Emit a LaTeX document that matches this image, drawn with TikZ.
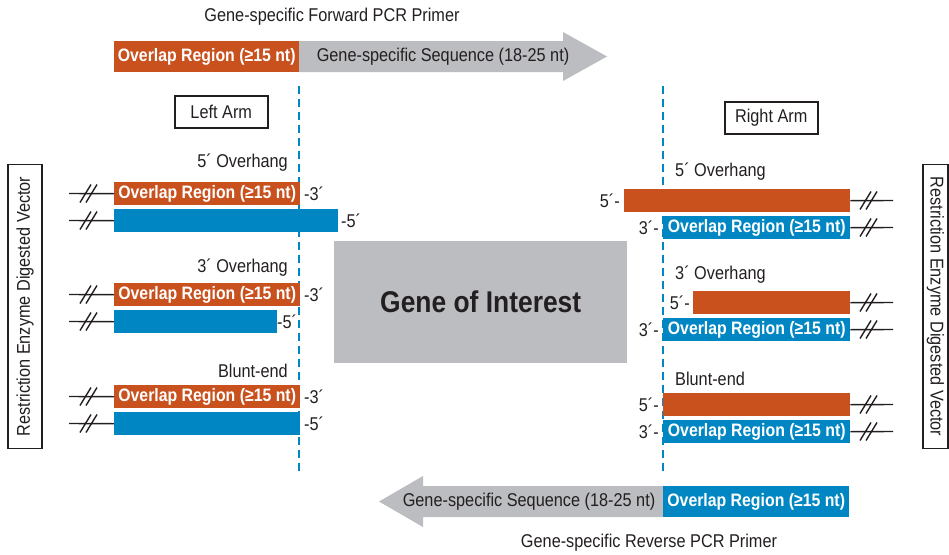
\documentclass[tikz,border=0pt]{standalone}
\usepackage{fontspec}
\setmainfont[FakeStretch=0.88]{Liberation Sans}
\definecolor{orng}{RGB}{200,81,30}
\definecolor{blu}{RGB}{0,135,195}
\definecolor{gry}{RGB}{188,189,192}
\definecolor{txt}{RGB}{35,31,32}
\tikzset{
  bar/.style={inner sep=0pt, anchor=north west, minimum height=23pt, text=white,
    font=\bfseries\fontsize{18}{20}\selectfont},
  obar/.style={bar, fill=orng},
  bbar/.style={bar, fill=blu},
  lbl/.style={text=txt, font=\fontsize{18.5}{20}\selectfont, inner sep=0pt},
  brk/.style={draw=txt, line width=1.4pt},
  armbox/.style={draw=txt, line width=1.5pt, text=txt, font=\fontsize{18.5}{20}\selectfont,
    minimum width=93pt, minimum height=32pt, inner sep=0pt, anchor=north west},
  vbox/.style={draw=txt, line width=1.5pt, text=txt, font=\fontsize{18.5}{20}\selectfont,
    minimum width=284pt, inner sep=0pt},
  cutline/.style={draw=blu, line width=2pt, dash pattern=on 8pt off 5pt},
  dslash/.pic={\draw[brk] (-6,9) -- (5,-9); \draw[brk] (0,9) -- (11,-9);}
}
\begin{document}
\begin{tikzpicture}[x=1pt,y=-1pt]
\useasboundingbox (0,0) rectangle (949,554);

% cut lines
\coordinate (cl1) at (299,86);
\coordinate (cl2) at (299,472);
\coordinate (cr1) at (663,86);
\coordinate (cr2) at (663,473);
\draw[cutline] (cl1) -- (cl2);
\draw[cutline] (cr1) -- (cr2);

% forward primer
\node[lbl] (ftitle) at (332,17) {Gene-specific Forward PCR Primer};
\fill[gry] (299,41) -- (563,41) -- (563,32) -- (607,56.5) -- (563,81) -- (563,72) -- (299,72) -- cycle;
\node[obar, minimum width=185pt, minimum height=31pt] (fo) at (114,41) {Overlap Region (≥15 nt)};
\node[lbl] (fs) at (443,56.5) {Gene-specific Sequence (18-25 nt)};

% reverse primer
\fill[gry] (663,486) -- (423,486) -- (423,476) -- (379,501.5) -- (423,527) -- (423,517) -- (663,517) -- cycle;
\node[bbar, minimum width=186pt, minimum height=31pt] (rb) at (663,486) {Overlap Region (≥15 nt)};
\node[lbl] (rs) at (529,501.5) {Gene-specific Sequence (18-25 nt)};
\node[lbl] (rtitle) at (649,543) {Gene-specific Reverse PCR Primer};

% arm boxes
\node[armbox] (larm) at (174,95) {Left Arm};
\node[armbox] (rarm) at (724,101) {Right Arm};

% vector boxes
\node[vbox, rotate=90, minimum height=34pt] (lvec) at (25,306.5) {Restriction Enzyme Digested Vector};
\node[vbox, rotate=-90, minimum height=25pt] (rvec) at (935.5,306.5) {Restriction Enzyme Digested Vector};

% gene of interest
\node[fill=gry, anchor=north west, minimum width=293pt, minimum height=122pt, inner sep=0pt,
  text=txt, font=\bfseries\fontsize{30}{32}\selectfont] (goi) at (334,241) {Gene of Interest};

% ---------- left arm ----------
\node[lbl, anchor=east] (lt1) at (288,163) {5´ Overhang};
\node[obar, minimum width=186pt] (lo1) at (114,182) {Overlap Region (≥15 nt)};
\node[bbar, minimum width=224pt] (lb1) at (114,209) {};
\node[lbl, anchor=west] (lo1e) at (304,193.5) {-3´};
\node[lbl, anchor=west] (lb1e) at (341,220.5) {-5´};

\node[lbl, anchor=east] (lt2) at (288,268) {3´ Overhang};
\node[obar, minimum width=186pt] (lo2) at (114,283) {Overlap Region (≥15 nt)};
\node[bbar, minimum width=163pt] (lb2) at (114,310) {};
\node[lbl, anchor=west] (lo2e) at (304,294.5) {-3´};
\node[lbl, anchor=west] (lb2e) at (277,321.5) {-5´};

\node[lbl, anchor=east] (lt3) at (288,371) {Blunt-end};
\node[obar, minimum width=186pt] (lo3) at (114,385) {Overlap Region (≥15 nt)};
\node[bbar, minimum width=186pt] (lb3) at (114,412) {};
\node[lbl, anchor=west] (lo3e) at (304,396.5) {-3´};
\node[lbl, anchor=west] (lb3e) at (304,423.5) {-5´};

% left vector ends
\foreach \n/\y in {lo1/193.5, lb1/220.5, lo2/294.5, lb2/321.5, lo3/396.5, lb3/423.5}{
  \coordinate (\n v) at (69,\y);
  \draw[brk] (\n v) -- (\n.west);
  \pic at (86,\y) {dslash};
}

% ---------- right arm ----------
\node[lbl, anchor=west] (rt1) at (675,172) {5´ Overhang};
\node[obar, minimum width=226pt] (ro1) at (624,189) {};
\node[bbar, minimum width=187pt] (rb1) at (663,216) {Overlap Region (≥15 nt)};
\node[lbl, anchor=east] (ro1e) at (620,200.5) {5´-};
\node[lbl, anchor=east] (rb1e) at (659,227.5) {3´-};

\node[lbl, anchor=west] (rt2) at (675,275) {3´ Overhang};
\node[obar, minimum width=157pt] (ro2) at (693,291) {};
\node[bbar, minimum width=187pt] (rb2) at (663,318) {Overlap Region (≥15 nt)};
\node[lbl, anchor=east] (ro2e) at (690,302.5) {5´-};
\node[lbl, anchor=east] (rb2e) at (659,329.5) {3´-};

\node[lbl, anchor=west] (rt3) at (675,379) {Blunt-end};
\node[obar, minimum width=187pt] (ro3) at (663,393) {};
\node[bbar, minimum width=187pt] (rb3) at (663,420) {Overlap Region (≥15 nt)};
\node[lbl, anchor=east] (ro3e) at (659,404.5) {5´-};
\node[lbl, anchor=east] (rb3e) at (659,431.5) {3´-};

% right vector ends
\foreach \n/\y in {ro1/200.5, rb1/227.5, ro2/302.5, rb2/329.5, ro3/404.5, rb3/431.5}{
  \coordinate (\n v) at (893,\y);
  \draw[brk] (\n.east) -- (\n v);
  \pic at (866,\y) {dslash};
}
\end{tikzpicture}
\end{document}
